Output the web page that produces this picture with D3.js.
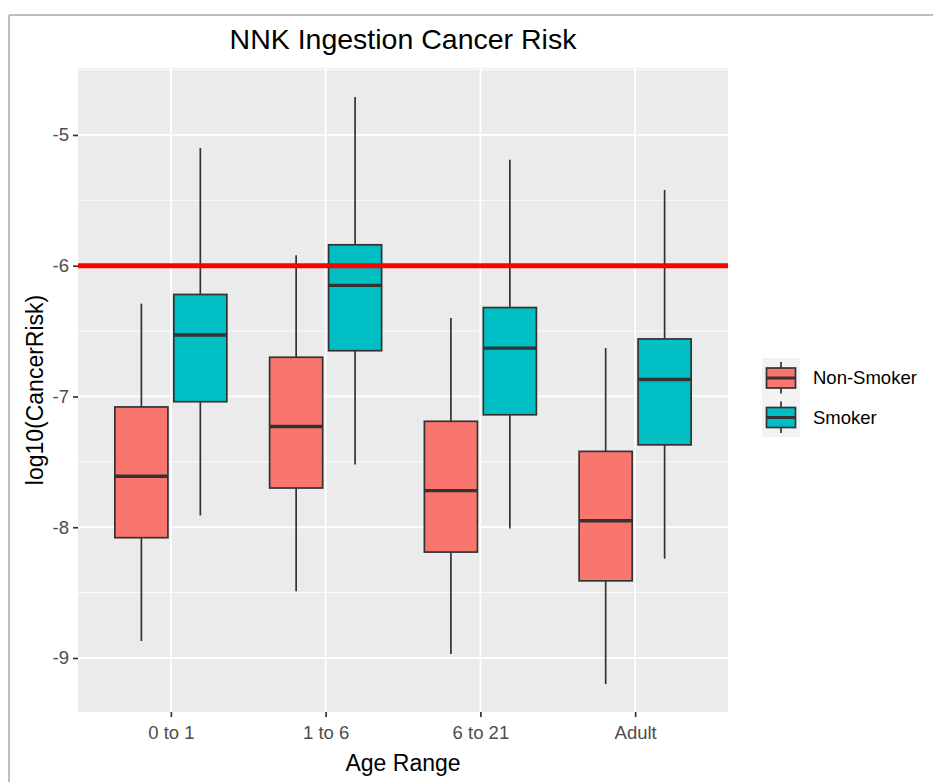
<!DOCTYPE html>
<html>
<head>
<meta charset="utf-8">
<script src="https://cdn.jsdelivr.net/npm/d3@7"></script>
<style>
  html, body { margin: 0; padding: 0; background: #ffffff; }
  svg { display: block; font-family: "Liberation Sans", Arial, sans-serif; }
</style>
</head>
<body>
<svg id="chart" width="933" height="782"></svg>
<script>
// Age groups on the x axis and the two exposure groups
const categories = ["0 to 1", "1 to 6", "6 to 21", "Adult"];
const groups = ["Non-Smoker", "Smoker"];

// Five-number summaries per age group: [lower whisker, Q1, median, Q3, upper whisker]
const nonSmoker = [
  [-8.87, -8.08, -7.61, -7.08, -6.29],
  [-8.49, -7.70, -7.23, -6.70, -5.92],
  [-8.97, -8.19, -7.72, -7.19, -6.40],
  [-9.20, -8.41, -7.95, -7.42, -6.63]
];
const smoker = [
  [-7.91, -7.04, -6.53, -6.22, -5.10],
  [-7.52, -6.65, -6.15, -5.84, -4.71],
  [-8.01, -7.14, -6.63, -6.32, -5.19],
  [-8.24, -7.37, -6.87, -6.56, -5.42]
];

// Reference risk level (1 in a million)
const threshold = -6;

const yTicks = [-9, -8, -7, -6, -5];
const yMinor = [-9.5, -8.5, -7.5, -6.5, -5.5, -4.5];

const colors = { "Non-Smoker": "#F8766D", "Smoker": "#00BFC4" };

const svg = d3.select("#chart");

// Panel geometry
const panel = { left: 78, right: 728, top: 68, bottom: 712 };

// Outer frame (viewer border)
svg.append("line").attr("x1", 9).attr("x2", 9).attr("y1", 15).attr("y2", 782)
  .attr("stroke", "#a8a8a8").attr("stroke-width", 1.5);
svg.append("line").attr("x1", 9).attr("x2", 933).attr("y1", 15).attr("y2", 15)
  .attr("stroke", "#a8a8a8").attr("stroke-width", 1.5);

const x = d3.scalePoint().domain(categories).range([panel.left, panel.right]).padding(0.6);
const dodge = d3.scaleBand().domain(groups).range([-56, 56]).paddingInner(0.1);
const y = d3.scaleLinear().domain([-9.413, -4.488]).range([panel.bottom, panel.top]);

// Panel background
svg.append("rect")
  .attr("x", panel.left).attr("y", panel.top)
  .attr("width", panel.right - panel.left).attr("height", panel.bottom - panel.top)
  .attr("fill", "#EBEBEB");

const grid = svg.append("g");
grid.selectAll("line.minor").data(yMinor.filter(v => y(v) >= panel.top && y(v) <= panel.bottom))
  .join("line").attr("class", "minor")
  .attr("x1", panel.left).attr("x2", panel.right)
  .attr("y1", d => y(d)).attr("y2", d => y(d))
  .attr("stroke", "#ffffff").attr("stroke-width", 0.9);
grid.selectAll("line.major").data(yTicks)
  .join("line").attr("class", "major")
  .attr("x1", panel.left).attr("x2", panel.right)
  .attr("y1", d => y(d)).attr("y2", d => y(d))
  .attr("stroke", "#ffffff").attr("stroke-width", 1.8);
grid.selectAll("line.vmajor").data(categories)
  .join("line").attr("class", "vmajor")
  .attr("x1", d => x(d)).attr("x2", d => x(d))
  .attr("y1", panel.top).attr("y2", panel.bottom)
  .attr("stroke", "#ffffff").attr("stroke-width", 1.8);

// Box plots
const boxes = [];
categories.forEach((c, i) => {
  boxes.push({ cat: c, grp: "Non-Smoker", s: nonSmoker[i] });
  boxes.push({ cat: c, grp: "Smoker", s: smoker[i] });
});

const bg = svg.append("g").selectAll("g").data(boxes).join("g")
  .attr("transform", d => `translate(${x(d.cat) + dodge(d.grp)},0)`);
const bw = dodge.bandwidth();

bg.append("line")
  .attr("x1", bw / 2).attr("x2", bw / 2)
  .attr("y1", d => y(d.s[4])).attr("y2", d => y(d.s[3]))
  .attr("stroke", "#333333").attr("stroke-width", 1.7);
bg.append("line")
  .attr("x1", bw / 2).attr("x2", bw / 2)
  .attr("y1", d => y(d.s[1])).attr("y2", d => y(d.s[0]))
  .attr("stroke", "#333333").attr("stroke-width", 1.7);
bg.append("rect")
  .attr("x", 0).attr("width", bw)
  .attr("y", d => y(d.s[3])).attr("height", d => y(d.s[1]) - y(d.s[3]))
  .attr("fill", d => colors[d.grp])
  .attr("stroke", "#333333").attr("stroke-width", 1.7);
bg.append("line")
  .attr("x1", 0).attr("x2", bw)
  .attr("y1", d => y(d.s[2])).attr("y2", d => y(d.s[2]))
  .attr("stroke", "#333333").attr("stroke-width", 3.4);

// Threshold line
svg.append("line")
  .attr("x1", panel.left).attr("x2", panel.right)
  .attr("y1", y(threshold)).attr("y2", y(threshold))
  .attr("stroke", "#FF0000").attr("stroke-width", 5);

// Axes
const yAxis = d3.axisLeft(y).tickValues(yTicks).tickFormat(d3.format("d")).tickSize(5).tickPadding(4);
const gy = svg.append("g").attr("transform", `translate(${panel.left},0)`).call(yAxis);
gy.select(".domain").remove();
gy.selectAll(".tick line").attr("stroke", "#333333").attr("stroke-width", 1.7);
gy.selectAll(".tick text").attr("fill", "#4D4D4D").attr("font-size", 18.5)
  .attr("font-family", "Liberation Sans, Arial, sans-serif").text(d => "-" + Math.abs(d));

const xAxis = d3.axisBottom(x).tickSize(5).tickPadding(9);
const gx = svg.append("g").attr("transform", `translate(0,${panel.bottom})`).call(xAxis);
gx.select(".domain").remove();
gx.selectAll(".tick line").attr("stroke", "#333333").attr("stroke-width", 1.7);
gx.selectAll(".tick text").attr("fill", "#4D4D4D").attr("font-size", 18.5)
  .attr("font-family", "Liberation Sans, Arial, sans-serif");

// Titles
const midX = (panel.left + panel.right) / 2;
svg.append("text").attr("x", midX).attr("y", 49).attr("text-anchor", "middle")
  .attr("font-size", 28.5).attr("fill", "#000").text("NNK Ingestion Cancer Risk");
svg.append("text").attr("x", midX).attr("y", 771).attr("text-anchor", "middle")
  .attr("font-size", 23).attr("fill", "#000").text("Age Range");
svg.append("text")
  .attr("transform", `translate(43,${(panel.top + panel.bottom) / 2}) rotate(-90)`)
  .attr("text-anchor", "middle")
  .attr("font-size", 23).attr("fill", "#000").text("log10(CancerRisk)");

// Legend
const legend = svg.append("g").attr("transform", "translate(762,358)");
const keyH = 39.5, keyW = 38;
const items = legend.selectAll("g").data(groups).join("g")
  .attr("transform", (d, i) => `translate(0,${i * keyH})`);
items.append("rect").attr("width", keyW).attr("height", keyH).attr("fill", "#F2F2F2");
items.append("line").attr("x1", keyW / 2).attr("x2", keyW / 2).attr("y1", 4).attr("y2", keyH - 4)
  .attr("stroke", "#333333").attr("stroke-width", 1.7);
items.append("rect").attr("x", 4.5).attr("y", 10).attr("width", keyW - 9).attr("height", 20)
  .attr("fill", d => colors[d]).attr("stroke", "#333333").attr("stroke-width", 1.7);
items.append("line").attr("x1", 4.5).attr("x2", keyW - 4.5).attr("y1", 20).attr("y2", 20)
  .attr("stroke", "#333333").attr("stroke-width", 3);
items.append("text").attr("x", 51).attr("y", keyH / 2).attr("dy", "0.35em")
  .attr("font-size", 18.5).attr("fill", "#000").text(d => d);
</script>
</body>
</html>
